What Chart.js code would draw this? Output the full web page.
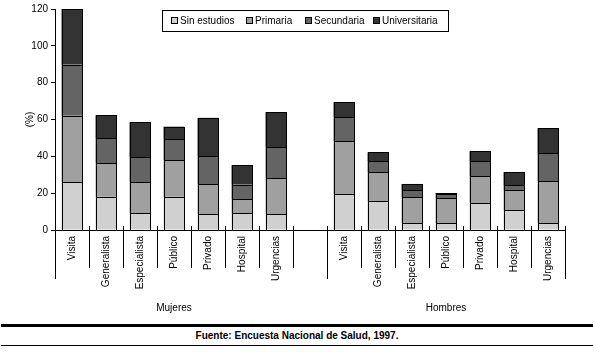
<!DOCTYPE html>
<html>
<head>
<meta charset="utf-8">
<script src="https://cdn.jsdelivr.net/npm/chart.js@4"></script>
<style>
  body { margin: 0; background: #fff; }
  #wrap { position: relative; width: 594px; height: 352px; font-family: "Liberation Sans", Arial, sans-serif; }
  #chartBox { position: absolute; left: 0; top: 0; width: 594px; height: 322px; }
  #rule1 { position: absolute; left: 1px; width: 592px; top: 324px; height: 3px; background: #000; }
  #source { position: absolute; left: 0; width: 594px; top: 330px; text-align: center; font-size: 10px; font-weight: bold; }
  #rule2 { position: absolute; left: 1px; width: 592px; top: 345px; height: 1px; background: #000; }
</style>
</head>
<body>
<div id="wrap">
  <div id="chartBox"><canvas id="chart"></canvas></div>
  <div id="rule1"></div>
  <div id="source">Fuente: Encuesta Nacional de Salud, 1997.</div>
  <div id="rule2"></div>
</div>
<script>
// data
const categories = ['Visita', 'Generalista', 'Especialista', 'Público', 'Privado', 'Hospital', 'Urgencias', '',
                    'Visita', 'Generalista', 'Especialista', 'Público', 'Privado', 'Hospital', 'Urgencias'];
const groupNames = ['Mujeres', 'Hombres'];
const groupFirst = [0, 8];
const groupLast = [6, 14];

const sinEstudios   = [26, 18, 9, 18, 8.5, 9, 8.5, null, 19.4, 15.6, 3.6, 3.6, 14.5, 10.7, 3.6];
const primaria      = [36, 18.2, 16.8, 20, 16.3, 7.6, 19.6, null, 28.8, 15.8, 14.2, 13.6, 14.7, 10.9, 22.9];
const secundaria    = [27.8, 13.5, 13.6, 11.4, 15.3, 8.1, 16.9, null, 13.1, 5.9, 3.8, 2.2, 8.1, 2.7, 15.2];
const universitaria = [30.2, 12.6, 19, 6.7, 20.8, 10.5, 19, null, 8.1, 4.9, 3.4, 0.7, 5.5, 7.1, 13.6];

const seriesNames = ['Sin estudios', 'Primaria', 'Secundaria', 'Universitaria'];
const seriesColors = ['#d0d0d0', '#a0a0a0', '#646464', '#333333'];

const FONT = '"Liberation Sans", Arial, sans-serif';
Chart.defaults.font.family = FONT;
Chart.defaults.font.size = 10;
Chart.defaults.color = '#000';

// crisp 1px black outlines on every bar segment
const barOutline = {
    id: 'barOutline',
    afterDatasetsDraw(chart) {
        const ctx = chart.ctx;
        ctx.save();
        ctx.strokeStyle = '#000';
        ctx.lineWidth = 1;
        chart.data.datasets.forEach((ds, di) => {
            chart.getDatasetMeta(di).data.forEach((bar, i) => {
                if (ds.data[i] == null) return;
                const l = Math.round(bar.x - bar.width / 2) + 0.5;
                const r = Math.round(bar.x + bar.width / 2) - 0.5;
                const t = Math.round(bar.y) + 0.5;
                const b = Math.round(bar.base) + 0.5;
                ctx.strokeRect(l, t, r - l, b - t);
            });
        });
        ctx.restore();
    }
};

// vertical dividers under the axis + group names
const groupAxis = {
    id: 'groupAxis',
    afterDraw(chart) {
        const ctx = chart.ctx;
        const x = chart.scales.x;
        const y = chart.scales.y;
        const slot = x.width / categories.length;
        const axisY = y.getPixelForValue(0);
        ctx.save();
        ctx.strokeStyle = '#000';
        ctx.lineWidth = 1;
        for (let i = 0; i <= categories.length; i++) {
            const px = Math.round(x.left + i * slot) + 0.5;
            const isLong = i === 0 || i === groupFirst[1] || i === categories.length;
            ctx.beginPath();
            ctx.moveTo(px, axisY - 4);
            ctx.lineTo(px, axisY + (isLong ? 49 : 38));
            ctx.stroke();
        }
        ctx.fillStyle = '#000';
        ctx.font = '10px ' + FONT;
        ctx.textAlign = 'center';
        ctx.textBaseline = 'middle';
        groupNames.forEach((name, g) => {
            const cx = (x.getPixelForValue(groupFirst[g]) + x.getPixelForValue(groupLast[g])) / 2;
            ctx.fillText(name, cx, axisY + 78);
        });
        ctx.restore();
    }
};

// boxed legend drawn inside the plot
const boxLegend = {
    id: 'boxLegend',
    afterDraw(chart) {
        const ctx = chart.ctx;
        const left = 162, top = 10, w = 286, h = 21;
        ctx.save();
        ctx.fillStyle = '#fff';
        ctx.fillRect(left, top, w, h);
        ctx.strokeStyle = '#000';
        ctx.lineWidth = 1;
        ctx.strokeRect(left + 0.5, top + 0.5, w, h);
        ctx.font = '10px ' + FONT;
        ctx.textBaseline = 'middle';
        ctx.textAlign = 'left';
        const cy = top + h / 2 + 0.5;
        const starts = [171, 246, 305, 373];
        chart.data.datasets.forEach((ds, i) => {
            const sx = starts[i];
            ctx.fillStyle = ds.backgroundColor;
            ctx.fillRect(sx, cy - 4, 7, 7);
            ctx.strokeRect(sx + 0.5, cy - 3.5, 6, 6);
            ctx.fillStyle = '#000';
            ctx.fillText(ds.label, sx + 9, cy);
        });
        ctx.restore();
    }
};

const seriesValues = [sinEstudios, primaria, secundaria, universitaria];
const datasets = seriesNames.map((name, i) => ({
    label: name,
    data: seriesValues[i],
    backgroundColor: seriesColors[i],
    borderWidth: 0,
    categoryPercentage: 1,
    barPercentage: 21 / 34
}));

const ctx = document.getElementById('chart').getContext('2d');
const chart = new Chart(ctx, {
    type: 'bar',
    data: { labels: categories, datasets: datasets },
    options: {
        responsive: true,
        maintainAspectRatio: false,
        animation: false,
        layout: { padding: { top: 9, right: 29, left: 0, bottom: 0 } },
        plugins: {
            legend: { display: false },
            tooltip: { enabled: false }
        },
        scales: {
            x: {
                stacked: true,
                grid: { display: false, drawTicks: false },
                border: { display: true, color: '#000', width: 1 },
                ticks: { minRotation: 90, maxRotation: 90, autoSkip: false, padding: 6, color: '#000' },
                afterFit(scale) { scale.height = 92; }
            },
            y: {
                stacked: true,
                min: 0,
                max: 120,
                grid: { drawOnChartArea: false, drawTicks: true, tickLength: 4, color: '#000' },
                border: { display: true, color: '#000', width: 1 },
                ticks: { stepSize: 20, padding: 3, color: '#000' },
                title: { display: true, text: '(%)', padding: { top: 24, bottom: 0 }, font: { size: 10 } },
                afterFit(scale) { scale.width = 55; }
            }
        }
    },
    plugins: [barOutline, groupAxis, boxLegend]
});
</script>
</body>
</html>
